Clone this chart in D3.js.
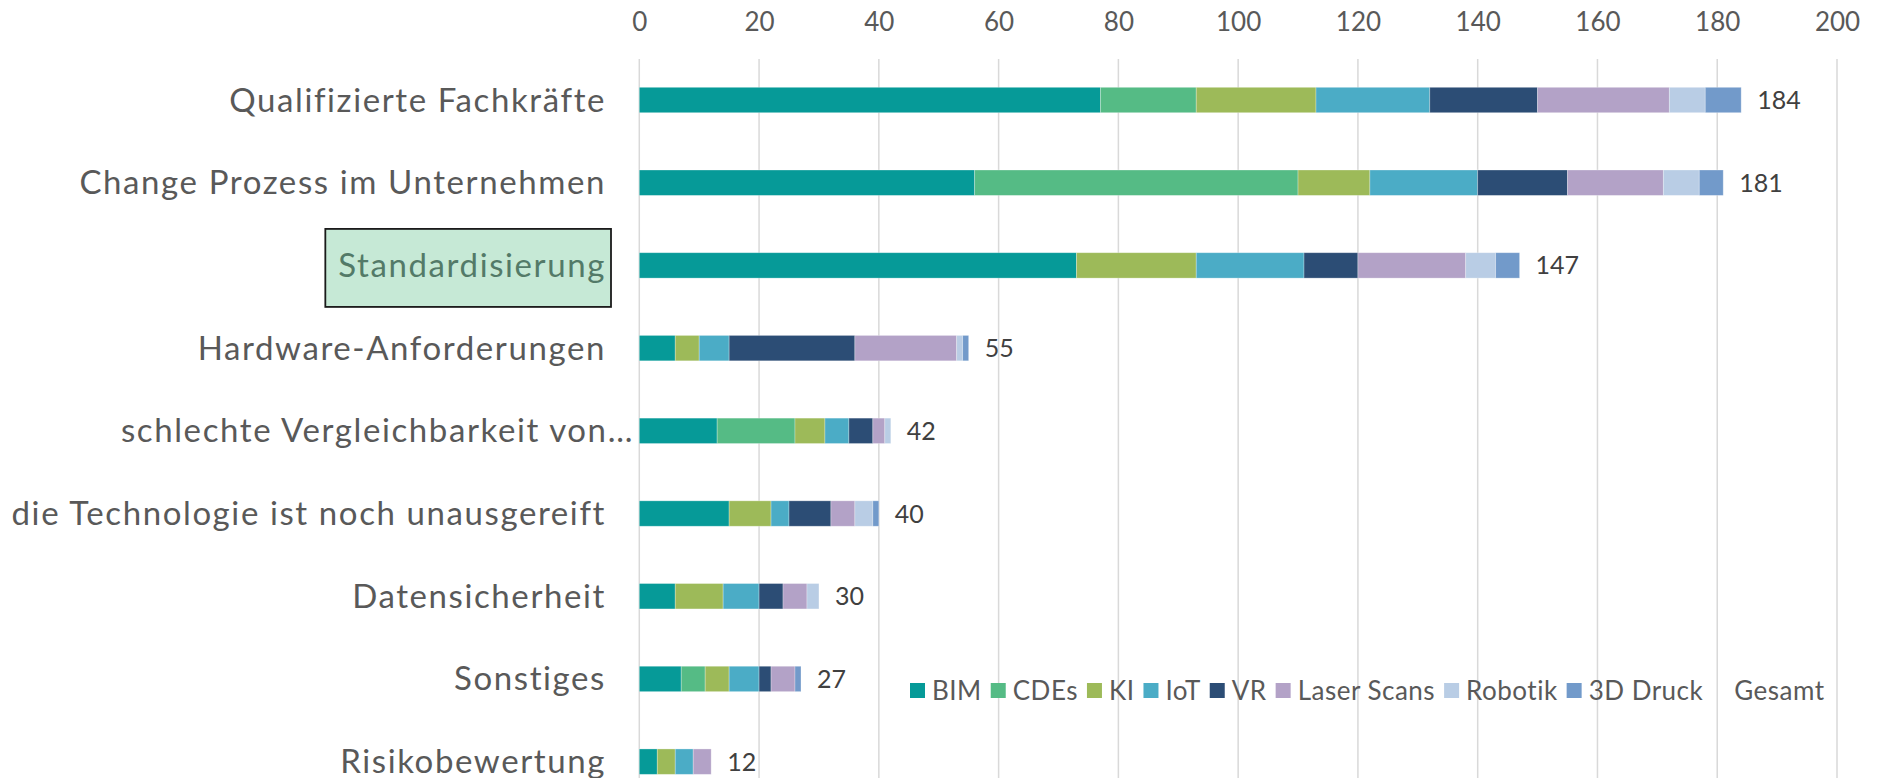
<!DOCTYPE html>
<html>
<head>
<meta charset="utf-8">
<script src="https://cdn.jsdelivr.net/npm/d3@7"></script>
<style>
  html, body { margin: 0; padding: 0; background: #fff; }
  svg { display: block; font-family: Lato, "Open Sans", sans-serif; }
</style>
</head>
<body>
<svg id="chart" width="1881" height="778"></svg>
<script>
// ---------- data ----------
const categories = [
  "Qualifizierte Fachkräfte",
  "Change Prozess im Unternehmen",
  "Standardisierung",
  "Hardware-Anforderungen",
  "schlechte Vergleichbarkeit von…",
  "die Technologie ist noch unausgereift",
  "Datensicherheit",
  "Sonstiges",
  "Risikobewertung"
];
const seriesNames = ["BIM", "CDEs", "KI", "IoT", "VR", "Laser Scans", "Robotik", "3D Druck"];
const BIM        = [77, 56, 73,  6, 13, 15, 6, 7, 3];
const CDEs       = [16, 54,  0,  0, 13,  0, 0, 4, 0];
const KI         = [20, 12, 20,  4,  5,  7, 8, 4, 3];
const IoT        = [19, 18, 18,  5,  4,  3, 6, 5, 3];
const VR         = [18, 15,  9, 21,  4,  7, 4, 2, 0];
const LaserScans = [22, 16, 18, 17,  2,  4, 4, 4, 3];
const Robotik    = [ 6,  6,  5,  1,  1,  3, 2, 0, 0];
const Druck3D    = [ 6,  4,  4,  1,  0,  1, 0, 1, 0];
const Gesamt     = [184, 181, 147, 55, 42, 40, 30, 27, 12];
const xTicks = [0, 20, 40, 60, 80, 100, 120, 140, 160, 180, 200];
const colors = ["#069a98", "#55bb85", "#9dba59", "#4bacc6", "#2c4d75", "#b3a2c7", "#b9cde5", "#729aca"];
const legendNames = ["BIM", "CDEs", "KI", "IoT", "VR", "Laser Scans", "Robotik", "3D Druck", "Gesamt"];

// ---------- build table ----------
const seriesValues = [BIM, CDEs, KI, IoT, VR, LaserScans, Robotik, Druck3D];
const table = categories.map((c, i) => {
  const row = { cat: c };
  seriesNames.forEach((s, j) => row[s] = seriesValues[j][i]);
  row.total = Gesamt[i];
  return row;
});
const stacked = d3.stack().keys(seriesNames)(table);

// ---------- scales ----------
const svg = d3.select("#chart");
const x = d3.scaleLinear().domain([0, 200]).range([639.3, 1837]);
const y = d3.scaleBand().domain(categories).range([58.65, 803])
  .paddingInner(0.693).paddingOuter(0.3465);
const color = d3.scaleOrdinal().domain(seriesNames).range(colors);

// ---------- gridlines ----------
svg.append("g").selectAll("line").data(xTicks).join("line")
  .attr("x1", d => x(d)).attr("x2", d => x(d))
  .attr("y1", 59).attr("y2", 778)
  .attr("stroke", "#d9d9d9").attr("stroke-width", 1.5);

// ---------- top axis ----------
const axis = svg.append("g").attr("transform", "translate(0,59)")
  .call(d3.axisTop(x).tickValues(xTicks).tickSize(0).tickPadding(0));
axis.select(".domain").remove();
axis.selectAll("text")
  .attr("y", -37).attr("dy", "0.35em")
  .attr("font-family", "Lato").attr("font-size", 26).attr("fill", "#595959");

// ---------- bars ----------
svg.append("g").selectAll("g").data(stacked).join("g")
  .attr("fill", d => color(d.key))
  .selectAll("rect").data(d => d).join("rect")
  .attr("x", d => x(d[0]))
  .attr("width", d => x(d[1]) - x(d[0]))
  .attr("y", d => y(d.data.cat))
  .attr("height", y.bandwidth())
  .attr("stroke", "#ffffff").attr("stroke-opacity", 0.35).attr("stroke-width", 0.8);

// ---------- value labels ----------
svg.append("g").selectAll("text").data(table).join("text")
  .attr("x", d => x(d.total) + 16)
  .attr("y", d => y(d.cat) + y.bandwidth() / 2)
  .attr("dy", "0.36em")
  .attr("font-size", 25).attr("fill", "#404040")
  .text(d => d.total);

// ---------- category labels ----------
const labelG = svg.append("g");
const catLabels = labelG.selectAll("text").data(categories).join("text")
  .attr("x", d => d.endsWith("…") ? 634 : 606)
  .attr("y", d => y(d) + y.bandwidth() / 2)
  .attr("dy", "0.35em")
  .attr("text-anchor", "end")
  .attr("font-size", 33)
  .attr("letter-spacing", 1.6)
  .attr("fill", d => d === "Standardisierung" ? "#537a68" : "#595959")
  .text(d => d);

// highlight box around "Standardisierung"
catLabels.filter(d => d === "Standardisierung").each(function(d) {
  const bb = this.getBBox();
  const yc = y(d) + y.bandwidth() / 2;
  labelG.insert("rect", "text")
    .attr("x", bb.x - 13).attr("width", bb.width + 18)
    .attr("y", yc - 36.5).attr("height", 78)
    .attr("fill", "#c6e9d6").attr("stroke", "#1a1a1a").attr("stroke-width", 1.8);
});

// ---------- legend ----------
const legend = svg.append("g");
let lx = 910;
const ly = 690.5;
legendNames.forEach((name, i) => {
  if (i < colors.length) {
    legend.append("rect").attr("x", lx).attr("y", ly - 7.5)
      .attr("width", 15).attr("height", 15).attr("fill", colors[i]);
  }
  const t = legend.append("text").attr("x", lx + 22).attr("y", ly)
    .attr("dy", "0.35em").attr("font-size", 26).attr("letter-spacing", 0.5)
    .attr("fill", "#595959").text(name);
  lx = lx + 22 + t.node().getComputedTextLength() + 9;
});
</script>
</body>
</html>
